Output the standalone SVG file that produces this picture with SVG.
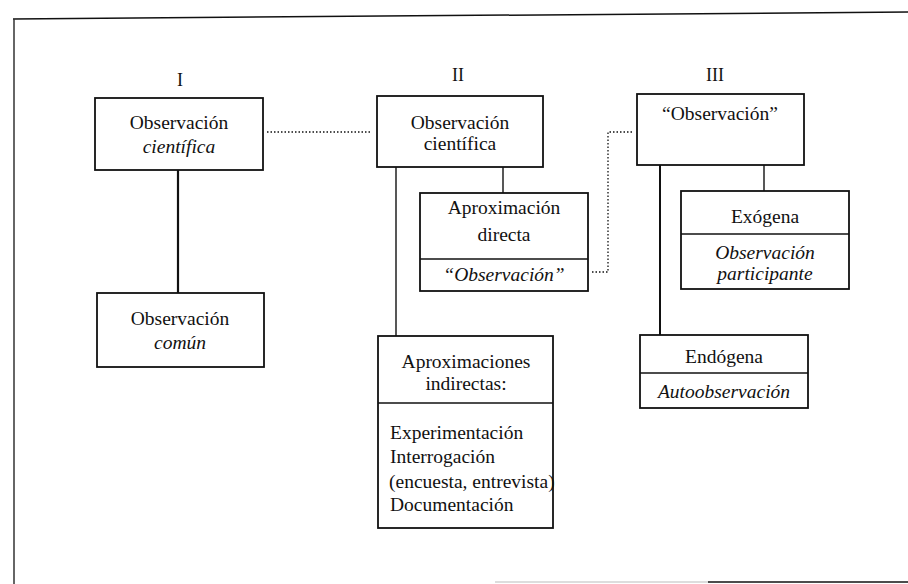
<svg xmlns="http://www.w3.org/2000/svg" width="908" height="584" viewBox="0 0 908 584">
<style>
.bx{fill:#fff;stroke:#111;stroke-width:1.8}
.dv{stroke:#111;stroke-width:1.5}
.t{font-family:"Liberation Serif","Times New Roman",serif;font-size:19.5px;fill:#111;text-anchor:middle}
.i{font-style:italic}
.l{text-anchor:start}
.n{font-family:"Liberation Serif","Times New Roman",serif;font-size:18px;fill:#111;text-anchor:middle}
.ln{stroke:#111;fill:none}
.dot{stroke:#111;fill:none;stroke-width:1.3;stroke-dasharray:1.5 2}
</style>
<rect width="908" height="584" fill="#fff"/>
<g id="frame">
<line x1="13" y1="19" x2="908" y2="12" stroke="#111" stroke-width="1.5"/>
<line x1="14" y1="19" x2="14" y2="584" stroke="#333" stroke-width="1.5"/>
<line x1="495" y1="582" x2="708" y2="582" stroke="#bbb" stroke-width="1.2"/>
<line x1="708" y1="582" x2="908" y2="582" stroke="#111" stroke-width="1.6"/>
</g>
<g id="labels">
<text class="n" x="180" y="86">I</text>
<text class="n" x="458" y="81">II</text>
<text class="n" x="715" y="81">III</text>
</g>
<g id="connectors">
<line class="ln" x1="178" y1="170" x2="178" y2="293" stroke-width="2.2"/>
<line class="ln" x1="396" y1="167" x2="396" y2="336" stroke-width="1.4"/>
<line class="ln" x1="503" y1="167" x2="503" y2="193" stroke-width="1.4"/>
<line class="ln" x1="660" y1="165" x2="660" y2="335" stroke-width="2"/>
<line class="ln" x1="764" y1="165" x2="764" y2="191" stroke-width="1.4"/>
<line class="dot" x1="267" y1="132" x2="372" y2="132"/>
<polyline class="dot" points="592,272 608,272 608,132 632,132"/>
</g>
<g id="n1">
<rect class="bx" x="95" y="98" width="168" height="72"/>
<text class="t" x="179" y="129">Observación</text>
<text class="t i" x="179" y="153">científica</text>
</g>
<g id="n2">
<rect class="bx" x="97" y="293" width="167" height="74"/>
<text class="t" x="180" y="325">Observación</text>
<text class="t i" x="180" y="349">común</text>
</g>
<g id="n3">
<rect class="bx" x="377" y="96" width="166" height="71"/>
<text class="t" x="460" y="129">Observación</text>
<text class="t" x="460" y="150">científica</text>
</g>
<g id="n4">
<rect class="bx" x="420" y="193" width="168" height="98"/>
<line class="dv" x1="420" y1="259" x2="588" y2="259"/>
<text class="t" x="504" y="214">Aproximación</text>
<text class="t" x="504" y="241">directa</text>
<text class="t i" x="504" y="281">“Observación”</text>
</g>
<g id="n5">
<rect class="bx" x="637" y="94" width="167" height="71"/>
<text class="t" x="720" y="120">“Observación”</text>
</g>
<g id="n6">
<rect class="bx" x="681" y="191" width="168" height="98"/>
<line class="dv" x1="681" y1="234" x2="849" y2="234"/>
<text class="t" x="765" y="223">Exógena</text>
<text class="t i" x="765" y="259">Observación</text>
<text class="t i" x="765" y="280">participante</text>
</g>
<g id="n7">
<rect class="bx" x="640" y="335" width="168" height="73"/>
<line class="dv" x1="640" y1="373" x2="808" y2="373"/>
<text class="t" x="724" y="363">Endógena</text>
<text class="t i" x="724" y="398">Autoobservación</text>
</g>
<g id="n8">
<rect class="bx" x="378" y="336" width="175" height="192"/>
<line class="dv" x1="378" y1="403" x2="553" y2="403"/>
<text class="t" x="466" y="368">Aproximaciones</text>
<text class="t" x="466" y="390">indirectas:</text>
<text class="t l" x="390" y="439">Experimentación</text>
<text class="t l" x="390" y="463">Interrogación</text>
<text class="t l" x="389" y="488">(encuesta, entrevista)</text>
<text class="t l" x="390" y="511">Documentación</text>
</g>
</svg>
